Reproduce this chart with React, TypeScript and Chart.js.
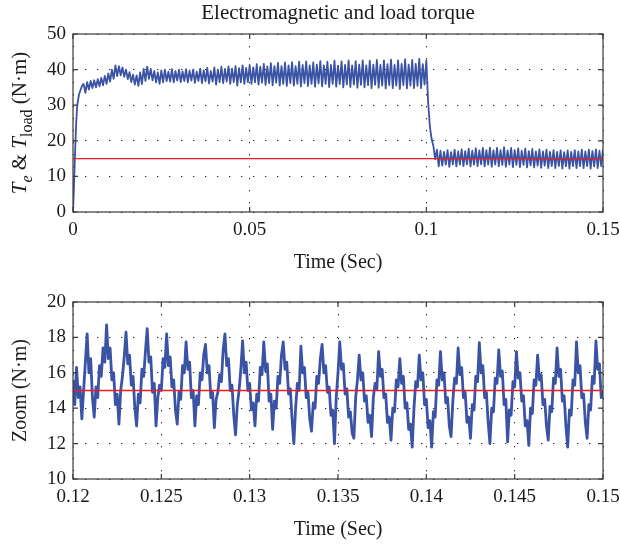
import React, { useEffect, useRef } from 'react';
import { Chart, registerables } from 'chart.js';

Chart.register(...registerables);

const FONT = '"Liberation Serif", "Times New Roman", serif';
const BLUE = '#3a53a4';
const RED = '#ee1c24';
const TEXT = '#1a1a1a';

// ---------- Top chart: electromagnetic and load torque ----------
const topXTicks = [0, 0.05, 0.1, 0.15];
const topXTickLabels = ['0', '0.05', '0.1', '0.15'];
const topYTicks = [0, 10, 20, 30, 40, 50];
const topYTickLabels = ['0', '10', '20', '30', '40', '50'];

// start-up rise (s, N·m)
const riseTime = [0, 0.0003, 0.0006, 0.0009, 0.0012, 0.0017, 0.0022, 0.0026];
const riseTorque = [0, 8, 17, 25, 30, 33, 34.5, 35.5];

// ripple envelope, sampled every 1 ms from 3 ms (upper peak, then lower peak half a step later)
const envStart = 0.003;
const envStep = 0.001;
const upperTorque = [
  36.0, 36.5, 36.8, 37.0, 37.3, 37.7, 38.2, 38.9, 40.0, 41.2,
  41.0, 40.6, 40.0, 39.3, 38.6, 38.4, 39.2, 40.2, 40.8, 40.2,
  39.6, 39.2, 39.8, 40.0, 39.4, 40.1, 39.6, 40.0, 39.5, 40.1,
  39.7, 40.0, 39.4, 40.3, 39.8, 40.5, 39.6, 40.6, 40.0, 40.8,
  40.2, 40.9, 40.3, 41.0, 40.4, 41.2, 40.5, 41.3, 40.6, 41.5,
  40.8, 41.6, 40.9, 41.8, 41.0, 41.9, 41.0, 42.0, 41.2, 42.1,
  41.0, 42.2, 41.3, 42.3, 41.2, 42.0, 41.4, 42.4, 41.2, 42.2,
  41.3, 42.5, 41.1, 42.3, 41.3, 42.6, 41.2, 42.4, 41.4, 42.6,
  41.2, 42.5, 41.4, 42.7, 41.3, 42.6, 41.5, 42.8, 41.3, 42.6,
  41.6, 42.9, 41.4, 42.7, 41.6, 43.0, 41.5, 42.6, 24.0, 18.5,
  17.5, 17.2, 16.9, 17.4, 16.8, 17.5, 17.0, 17.6, 17.1, 17.8,
  17.2, 17.9, 17.3, 18.0, 17.4, 18.1, 17.3, 18.0, 17.4, 18.2,
  17.3, 18.0, 17.4, 17.9, 17.2, 17.8, 17.1, 17.7, 17.0, 17.6,
  17.0, 17.5, 16.9, 17.4, 16.9, 17.3, 16.8, 17.3, 16.9, 17.4,
  17.0, 17.5, 17.0, 17.5, 17.1, 17.6, 17.2, 17.6,
];
const lowerTorque = [
  33.5, 34.4, 34.8, 35.0, 35.3, 35.6, 36.0, 36.6, 37.4, 38.2,
  38.4, 38.0, 37.3, 36.5, 35.8, 35.4, 35.9, 36.8, 37.4, 37.0,
  36.4, 36.0, 36.4, 36.8, 36.6, 36.4, 36.9, 36.5, 36.8, 36.4,
  36.9, 36.3, 36.8, 36.2, 36.7, 36.1, 36.6, 35.8, 36.5, 36.2,
  36.6, 36.0, 36.5, 35.5, 36.4, 36.0, 36.5, 36.0, 36.4, 35.8,
  36.3, 35.7, 36.2, 35.6, 36.3, 35.5, 36.0, 35.4, 36.2, 35.5,
  36.0, 35.3, 36.2, 35.4, 36.0, 35.2, 36.1, 35.3, 36.0, 35.1,
  36.0, 35.2, 35.9, 35.0, 35.8, 35.1, 35.8, 34.9, 35.7, 35.0,
  35.6, 34.8, 35.7, 34.9, 35.5, 34.7, 35.6, 34.8, 35.5, 34.6,
  35.6, 34.7, 35.5, 34.8, 35.4, 34.8, 35.8, 31.0, 20.5, 14.8,
  12.8, 13.0, 13.3, 12.7, 13.4, 12.8, 13.3, 12.9, 13.4, 12.8,
  13.3, 12.9, 13.4, 12.8, 13.3, 12.7, 13.3, 12.8, 13.2, 12.7,
  13.3, 12.6, 13.2, 12.6, 13.2, 12.5, 13.1, 12.5, 13.0, 12.4,
  13.0, 12.3, 12.9, 12.3, 12.9, 12.2, 12.8, 12.2, 12.9, 12.3,
  12.9, 12.3, 12.9, 12.2, 12.8, 12.3, 12.9, 12.4,
];
const loadTime = [0, 0.15];
const loadTorque = [15, 15];

// ---------- Bottom chart: zoom 0.12 - 0.15 s ----------
const zoomXTicks = [0.12, 0.125, 0.13, 0.135, 0.14, 0.145, 0.15];
const zoomXTickLabels = ['0.12', '0.125', '0.13', '0.135', '0.14', '0.145', '0.15'];
const zoomYTicks = [10, 12, 14, 16, 18, 20];
const zoomYTickLabels = ['10', '12', '14', '16', '18', '20'];
const zoomStart = 0.12;
const zoomStep = 0.0001;
const zoomTorque = [
  15.6, 14.2, 16.3, 14.6, 15.2, 13.4, 15.0, 16.6, 18.2, 16.0,
  16.8, 14.6, 13.5, 15.2, 14.6, 16.4, 15.8, 17.4, 16.6, 18.7,
  16.8, 17.4, 15.6, 16.0, 14.2, 14.8, 13.1, 15.0, 15.8, 16.9,
  18.3, 16.5, 17.0, 15.3, 15.8, 14.0, 13.0, 14.8, 14.3, 16.2,
  15.8, 17.2, 18.5, 16.6, 16.9, 14.9, 15.4, 13.0, 14.6, 15.3,
  15.0, 16.8, 16.3, 18.2, 16.4, 16.9, 15.2, 15.6, 13.9, 13.1,
  14.9, 14.5, 16.4, 16.0, 17.75, 16.2, 16.6, 14.6, 15.0, 13.0,
  14.7, 14.2, 16.0, 15.6, 17.0, 17.6, 16.0, 16.4, 14.6, 14.9,
  12.9, 14.5, 14.9, 15.9, 15.5, 17.3, 18.2, 16.4, 16.8, 15.0,
  15.3, 13.6, 12.5, 14.2, 15.0, 16.2, 17.8, 16.0, 16.6, 15.0,
  15.4, 13.9, 14.3, 13.0, 14.8, 14.4, 16.3, 15.9, 17.75, 16.1,
  16.5, 14.4, 14.8, 12.8, 14.4, 14.0, 15.8, 15.4, 17.0, 17.75,
  16.2, 16.6, 14.8, 15.1, 13.4, 12.0, 14.0, 15.4, 15.0, 17.5,
  16.0, 16.3, 14.6, 14.9, 13.4, 12.7, 14.3, 14.0, 15.8, 15.4,
  16.8, 17.6, 16.0, 16.4, 14.9, 15.2, 13.6, 13.9, 12.0, 14.6,
  16.0, 17.75, 16.2, 16.5, 14.8, 15.1, 13.5, 13.8, 12.6, 12.3,
  14.6, 15.6, 17.0, 15.6, 16.0, 14.4, 14.7, 13.2, 13.6, 12.4,
  14.6, 15.4, 15.1, 17.2, 15.8, 16.2, 14.6, 14.8, 13.2, 13.5,
  12.2, 14.0, 13.8, 15.6, 15.2, 16.8, 15.4, 15.8, 14.0, 14.3,
  12.8, 13.1, 11.8, 14.0, 15.5, 15.2, 17.0, 15.6, 16.0, 14.2,
  14.5, 12.9, 13.3, 11.8, 13.8, 13.5, 15.6, 15.3, 17.2, 15.6,
  16.0, 14.3, 14.6, 13.0, 12.4, 14.4, 15.7, 15.4, 17.4, 15.9,
  16.3, 14.6, 14.9, 13.2, 13.5, 12.3, 14.2, 13.9, 15.8, 15.5,
  17.7, 16.0, 16.4, 14.6, 14.9, 13.2, 12.0, 14.0, 13.8, 15.7,
  15.4, 17.3, 15.8, 16.1, 14.2, 14.5, 12.1, 13.9, 13.6, 15.5,
  15.2, 17.2, 15.7, 16.0, 14.4, 14.7, 13.0, 13.3, 11.9, 14.0,
  13.7, 15.6, 15.3, 17.0, 15.6, 15.9, 14.2, 14.5, 13.0, 12.2,
  14.1, 13.8, 15.7, 15.4, 17.4, 15.8, 16.2, 14.4, 14.7, 13.0,
  11.8, 13.9, 13.6, 15.6, 15.3, 17.75, 16.0, 16.4, 14.6, 14.8,
  13.2, 12.3, 14.2, 13.9, 15.8, 15.4, 17.8, 16.2, 16.5, 14.6,
  15.0,
];
const zoomLoadTime = [0.12, 0.15];
const zoomLoadTorque = [15, 15];

type Seg = { t: string; italic?: boolean; sub?: boolean };

function drawRich(ctx: CanvasRenderingContext2D, segs: Seg[], cx: number, baseY: number, size: number) {
  const fontFor = (s: Seg) =>
    `${s.italic ? 'italic ' : ''}${s.sub ? Math.round(size * 0.74) : size}px ${FONT}`;
  const widths = segs.map((s) => {
    ctx.font = fontFor(s);
    return ctx.measureText(s.t).width;
  });
  const total = widths.reduce((a, b) => a + b, 0);
  let x = cx - total / 2;
  ctx.textAlign = 'left';
  ctx.textBaseline = 'alphabetic';
  segs.forEach((s, i) => {
    ctx.font = fontFor(s);
    ctx.fillText(s.t, x, baseY + (s.sub ? size * 0.28 : 0));
    x += widths[i];
  });
}

const framePlugin = {
  id: 'frame',
  afterDraw(chart: any, _args: any, opts: any) {
    const { ctx, chartArea: a, scales } = chart;
    ctx.save();
    ctx.strokeStyle = '#3a3a3a';
    ctx.lineWidth = 1.2;
    ctx.strokeRect(a.left, a.top, a.right - a.left, a.bottom - a.top);
    const L = 5;
    ctx.beginPath();
    opts.xTicks.forEach((v: number) => {
      const px = scales.x.getPixelForValue(v);
      ctx.moveTo(px, a.bottom);
      ctx.lineTo(px, a.bottom - L);
      ctx.moveTo(px, a.top);
      ctx.lineTo(px, a.top + L);
    });
    opts.yTicks.forEach((v: number) => {
      const py = scales.y.getPixelForValue(v);
      ctx.moveTo(a.left, py);
      ctx.lineTo(a.left + L, py);
      ctx.moveTo(a.right, py);
      ctx.lineTo(a.right - L, py);
    });
    ctx.stroke();

    ctx.fillStyle = TEXT;
    const cx = (a.left + a.right) / 2;
    if (opts.title) {
      ctx.font = `21px ${FONT}`;
      ctx.textAlign = 'center';
      ctx.textBaseline = 'alphabetic';
      ctx.fillText(opts.title, cx, opts.titleY);
    }
    ctx.font = `20px ${FONT}`;
    ctx.textAlign = 'center';
    ctx.textBaseline = 'middle';
    ctx.fillText(opts.xTitle, cx, opts.xTitleY);
    ctx.save();
    ctx.translate(opts.yTitleX, (a.top + a.bottom) / 2);
    ctx.rotate(-Math.PI / 2);
    drawRich(ctx, opts.yTitle, 0, 7, opts.yTitleSize);
    ctx.restore();
    ctx.restore();
  },
};

type ChartSpec = {
  signal: { x: number; y: number }[];
  load: { x: number; y: number }[];
  xMin: number;
  xMax: number;
  yMin: number;
  yMax: number;
  xTicks: number[];
  xLabels: string[];
  yTicks: number[];
  yLabels: string[];
  padTop: number;
  xAxisH: number;
  frame: any;
  lineWidth: number;
};

function makeConfig(p: ChartSpec): any {
  const tickFont = { family: FONT, size: 19 };
  return {
    type: 'line',
    data: {
      datasets: [
        { label: 'T_load', data: p.load, borderColor: RED, borderWidth: 1.4, pointRadius: 0, order: 0 },
        { label: 'T_e', data: p.signal, borderColor: BLUE, borderWidth: p.lineWidth, pointRadius: 0, order: 1, tension: 0, borderJoinStyle: 'round' },
      ],
    },
    options: {
      responsive: false,
      animation: false,
      devicePixelRatio: 1,
      parsing: false,
      normalized: true,
      events: [],
      layout: { padding: { top: p.padTop, right: 17, left: 0, bottom: 0 } },
      plugins: {
        legend: { display: false },
        tooltip: { enabled: false },
        title: { display: false },
        frame: p.frame,
      },
      scales: {
        x: {
          type: 'linear',
          min: p.xMin,
          max: p.xMax,
          afterBuildTicks: (s: any) => {
            s.ticks = p.xTicks.map((v) => ({ value: v }));
          },
          afterFit: (s: any) => {
            s.height = p.xAxisH;
            s.paddingLeft = 0;
            s.paddingRight = 0;
          },
          grid: { color: '#222', lineWidth: 1, drawTicks: false },
          border: { display: false, dash: [1.3, 10.7] },
          ticks: {
            autoSkip: false,
            maxRotation: 0,
            padding: 7,
            color: TEXT,
            font: tickFont,
            callback: (_v: any, i: number) => p.xLabels[i],
          },
        },
        y: {
          type: 'linear',
          min: p.yMin,
          max: p.yMax,
          afterBuildTicks: (s: any) => {
            s.ticks = p.yTicks.map((v) => ({ value: v }));
          },
          afterFit: (s: any) => {
            s.width = 73;
            s.paddingTop = 0;
            s.paddingBottom = 0;
          },
          grid: { color: '#222', lineWidth: 1, drawTicks: false },
          border: { display: false, dash: [1.3, 10.7] },
          ticks: {
            autoSkip: false,
            padding: 7,
            color: TEXT,
            font: tickFont,
            callback: (_v: any, i: number) => p.yLabels[i],
          },
        },
      },
    },
    plugins: [framePlugin],
  };
}

function buildTopSignal() {
  const pts: { x: number; y: number }[] = [];
  riseTime.forEach((t, i) => pts.push({ x: t, y: riseTorque[i] }));
  upperTorque.forEach((u, k) => {
    const t = envStart + k * envStep;
    pts.push({ x: t, y: u });
    pts.push({ x: t + envStep / 2, y: lowerTorque[k] });
  });
  return pts;
}

function ChartCanvas({ spec, width, height }: { spec: () => ChartSpec; width: number; height: number }) {
  const ref = useRef<HTMLCanvasElement | null>(null);
  useEffect(() => {
    if (!ref.current) return;
    const chart = new Chart(ref.current, makeConfig(spec()));
    return () => chart.destroy();
  }, []);
  return <canvas ref={ref} width={width} height={height} style={{ display: 'block', width, height }} />;
}

export default function App() {
  const topSpec = (): ChartSpec => ({
    signal: buildTopSignal(),
    load: loadTime.map((t, i) => ({ x: t, y: loadTorque[i] })),
    xMin: 0,
    xMax: 0.15,
    yMin: 0,
    yMax: 50,
    xTicks: topXTicks,
    xLabels: topXTickLabels,
    yTicks: topYTicks,
    yLabels: topYTickLabels,
    padTop: 34,
    xAxisH: 68,
    lineWidth: 1.8,
    frame: {
      xTicks: topXTicks,
      yTicks: topYTicks,
      title: 'Electromagnetic and load torque',
      titleY: 19,
      xTitle: 'Time (Sec)',
      xTitleY: 263,
      yTitleX: 19,
      yTitleSize: 21,
      yTitle: [
        { t: 'T', italic: true },
        { t: 'e', italic: true, sub: true },
        { t: ' & ' },
        { t: 'T', italic: true },
        { t: 'load', sub: true },
        { t: ' (N·m)' },
      ],
    },
  });
  const zoomSpec = (): ChartSpec => ({
    signal: zoomTorque.map((v, i) => ({ x: zoomStart + i * zoomStep, y: v })),
    load: zoomLoadTime.map((t, i) => ({ x: t, y: zoomLoadTorque[i] })),
    xMin: 0.12,
    xMax: 0.15,
    yMin: 10,
    yMax: 20,
    xTicks: zoomXTicks,
    xLabels: zoomXTickLabels,
    yTicks: zoomYTicks,
    yLabels: zoomYTickLabels,
    padTop: 22,
    xAxisH: 69,
    lineWidth: 2.8,
    frame: {
      xTicks: zoomXTicks,
      yTicks: zoomYTicks,
      title: '',
      titleY: 0,
      xTitle: 'Time (Sec)',
      xTitleY: 250,
      yTitleX: 19,
      yTitleSize: 20,
      yTitle: [{ t: 'Zoom (N·m)' }],
    },
  });
  return (
    <div style={{ position: 'absolute', left: 0, top: 0, width: 620, height: 548, background: '#fff' }}>
      <div style={{ position: 'absolute', left: 0, top: 0 }}>
        <ChartCanvas spec={topSpec} width={620} height={280} />
      </div>
      <div style={{ position: 'absolute', left: 0, top: 280 }}>
        <ChartCanvas spec={zoomSpec} width={620} height={268} />
      </div>
    </div>
  );
}
